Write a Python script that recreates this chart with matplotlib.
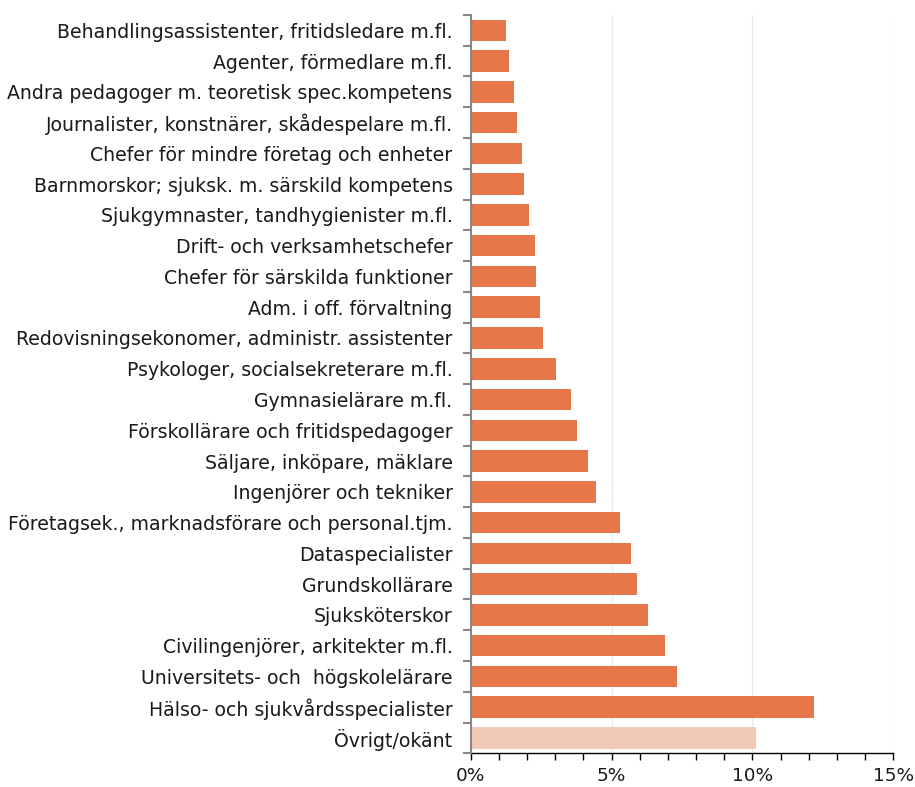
import matplotlib
matplotlib.use("Agg")
import matplotlib.pyplot as plt
import numpy as np
from matplotlib.ticker import MultipleLocator, FuncFormatter, FixedLocator

categories = [
    "Behandlingsassistenter, fritidsledare m.fl.",
    "Agenter, förmedlare m.fl.",
    "Andra pedagoger m. teoretisk spec.kompetens",
    "Journalister, konstnärer, skådespelare m.fl.",
    "Chefer för mindre företag och enheter",
    "Barnmorskor; sjuksk. m. särskild kompetens",
    "Sjukgymnaster, tandhygienister m.fl.",
    "Drift- och verksamhetschefer",
    "Chefer för särskilda funktioner",
    "Adm. i off. förvaltning",
    "Redovisningsekonomer, administr. assistenter",
    "Psykologer, socialsekreterare m.fl.",
    "Gymnasielärare m.fl.",
    "Förskollärare och fritidspedagoger",
    "Säljare, inköpare, mäklare",
    "Ingenjörer och tekniker",
    "Företagsek., marknadsförare och personal.tjm.",
    "Dataspecialister",
    "Grundskollärare",
    "Sjuksköterskor",
    "Civilingenjörer, arkitekter m.fl.",
    "Universitets- och  högskolelärare",
    "Hälso- och sjukvårdsspecialister",
    "Övrigt/okänt",
]
values = [1.26, 1.35, 1.54, 1.66, 1.81, 1.91, 2.08, 2.27, 2.33, 2.46, 2.57, 3.03,
          3.57, 3.77, 4.16, 4.46, 5.29, 5.70, 5.91, 6.31, 6.90, 7.32, 12.18, 10.13]
colors = ["#E5774B"] * 23 + ["#F2C8B6"]

fig = plt.figure(figsize=(9.15, 7.87), dpi=100)
ax = fig.add_axes([0.5144, 0.0428, 0.9763 - 0.5144, 0.981 - 0.0428])

y = np.arange(len(categories))
ax.barh(y, values, height=0.7, color=colors, edgecolor="none", zorder=3)
ax.set_ylim(len(categories) - 0.5, -0.5)
ax.set_xlim(0, 15)

ax.set_yticks(y)
ax.set_yticklabels(categories, fontsize=13.6, color="#1a1a1a")
ax.tick_params(axis="y", which="major", length=0, pad=13)
ax.yaxis.set_minor_locator(FixedLocator(np.arange(-0.5, len(categories), 1.0)))
ax.tick_params(axis="y", which="minor", length=6, width=1.5, color="#888888")

ax.xaxis.set_major_locator(MultipleLocator(5))
ax.xaxis.set_minor_locator(MultipleLocator(1))
ax.xaxis.set_major_formatter(FuncFormatter(lambda v, p: f"{v:.0f}%"))
ax.tick_params(axis="x", which="both", length=5, width=1, color="black",
               labelsize=13.3, labelcolor="#1a1a1a", pad=5)

ax.grid(axis="x", which="major", color="#EBEBEB", linewidth=1, zorder=0)
for s in ["top", "right"]:
    ax.spines[s].set_visible(False)
ax.spines["left"].set_color("#888888")
ax.spines["left"].set_linewidth(1.5)
ax.spines["bottom"].set_color("black")
ax.spines["bottom"].set_linewidth(1)
ax.spines["left"].set_zorder(4)

fig.savefig("out.png", dpi=100)
